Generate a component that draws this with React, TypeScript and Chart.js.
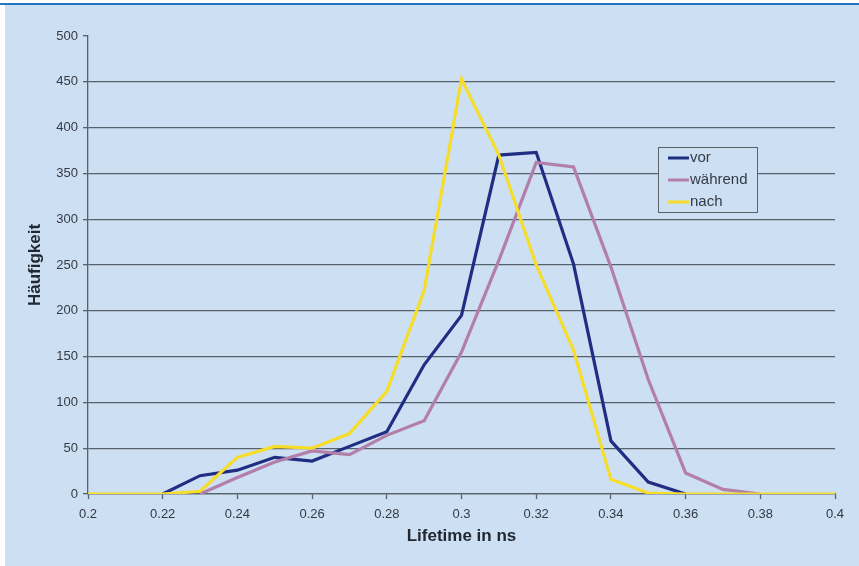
import React, { useEffect, useRef } from "react";
import { Chart, registerables } from "chart.js";

Chart.register(...registerables);

const lifetimes = [0.2, 0.21, 0.22, 0.23, 0.24, 0.25, 0.26, 0.27, 0.28, 0.29, 0.3, 0.31, 0.32, 0.33, 0.34, 0.35, 0.36, 0.37, 0.38, 0.39, 0.4];
const vor = [null, null, 0, 20, 26, 40, 36, 52, 68, 141, 195, 370, 373, 251, 58, 13, 0, null, null, null, null];
const waehrend = [null, null, null, 0, 18, 35, 47, 43, 64, 80, 155, 255, 362, 357, 248, 125, 23, 5, 0, null, null];
const nach = [0, 0, 0, 3, 40, 52, 50, 66, 112, 222, 453, 370, 250, 157, 16, 1, 0, 0, 0, 0, 0];

const seriesNames = ["vor", "während", "nach"];
const seriesColors = ["#1f2e82", "#b27eaa", "#f6dd2a"];
const xTitle = "Lifetime in ns";
const yTitle = "Häufigkeit";

const BG = "#cddff3";
const GRID = "#56616c";
const TEXT = "#333a44";
const FONT = "'Liberation Sans', Arial, sans-serif";

const toPoints = (arr: (number | null)[]) =>
  lifetimes.map((x, i) => ({ x, y: arr[i] }));

const frame = {
  id: "frame",
  beforeDraw(chart: any) {
    const { ctx, width, height } = chart;
    ctx.save();
    ctx.fillStyle = "#ffffff";
    ctx.fillRect(0, 0, width, height);
    ctx.fillStyle = BG;
    ctx.fillRect(5, 5, width - 5, height - 5);
    ctx.fillStyle = "#1f74c6";
    ctx.fillRect(0, 3, width, 2);
    ctx.restore();
  },
};

const legendBox = {
  id: "legendBox",
  afterDatasetsDraw(chart: any) {
    const { ctx } = chart;
    const x0 = 658, y0 = 147, w = 99, h = 65;
    ctx.save();
    ctx.fillStyle = BG;
    ctx.fillRect(x0, y0, w, h);
    ctx.strokeStyle = "#5a626b";
    ctx.lineWidth = 1;
    ctx.strokeRect(x0 + 0.5, y0 + 0.5, w, h);
    ctx.font = `15px ${FONT}`;
    ctx.textBaseline = "middle";
    seriesNames.forEach((name, i) => {
      const y = y0 + 11 + i * 22;
      ctx.strokeStyle = seriesColors[i];
      ctx.lineWidth = 3;
      ctx.beginPath();
      ctx.moveTo(668, y);
      ctx.lineTo(689, y);
      ctx.stroke();
      ctx.fillStyle = TEXT;
      ctx.fillText(name, 690, y);
    });
    ctx.restore();
  },
};

export default function App() {
  const ref = useRef<HTMLCanvasElement | null>(null);

  useEffect(() => {
    if (!ref.current) return;
    const datasets = [vor, waehrend, nach].map((arr, i) => ({
      label: seriesNames[i],
      data: toPoints(arr),
      borderColor: seriesColors[i],
      backgroundColor: seriesColors[i],
      borderWidth: 3.2,
      pointRadius: 0,
      tension: 0,
      fill: false,
      spanGaps: false,
      order: 3 - i,
    }));
    const chart = new Chart(ref.current, {
      type: "line",
      data: { datasets },
      plugins: [frame, legendBox],
      options: {
        animation: false,
        responsive: false,
        devicePixelRatio: 1,
        layout: { padding: { top: 36, right: 24, left: 0, bottom: 0 } },
        plugins: {
          legend: { display: false },
          tooltip: { enabled: false },
        },
        scales: {
          x: {
            type: "linear",
            min: 0.2,
            max: 0.4,
            afterFit: (s: any) => { s.height = 72; },
            ticks: {
              stepSize: 0.02,
              color: TEXT,
              font: { family: FONT, size: 13 },
              padding: 8,
              maxRotation: 0,
              callback: (v: any) => String(Number(Number(v).toFixed(2))),
            },
            grid: {
              drawOnChartArea: false,
              drawTicks: true,
              tickLength: 5,
              tickColor: GRID,
              tickWidth: 1.3,
            },
            border: { display: true, color: GRID, width: 1.3 },
            title: {
              display: true,
              text: xTitle,
              color: "#222831",
              font: { family: FONT, size: 17, weight: "bold" },
              padding: { top: 0, bottom: 19 },
            },
          },
          y: {
            type: "linear",
            min: 0,
            max: 500,
            afterFit: (s: any) => { s.width = 88; },
            ticks: {
              stepSize: 50,
              color: TEXT,
              font: { family: FONT, size: 13 },
              padding: 5,
            },
            grid: {
              color: (c: any) => (c.tick && c.tick.value === 500 ? "rgba(0,0,0,0)" : GRID),
              lineWidth: 1.3,
              drawTicks: true,
              tickLength: 5,
              tickColor: GRID,
              tickWidth: 1.3,
            },
            border: { display: true, color: GRID, width: 1.3 },
            title: {
              display: true,
              text: yTitle,
              color: "#222831",
              font: { family: FONT, size: 17, weight: "bold" },
              padding: { top: 25, bottom: 0 },
            },
          },
        },
      },
    } as any);
    return () => chart.destroy();
  }, []);

  return (
    <div style={{ position: "fixed", left: 0, top: 0, width: 859, height: 566, background: "#fff" }}>
      <canvas ref={ref} width={859} height={566} style={{ width: 859, height: 566, display: "block" }} />
    </div>
  );
}
